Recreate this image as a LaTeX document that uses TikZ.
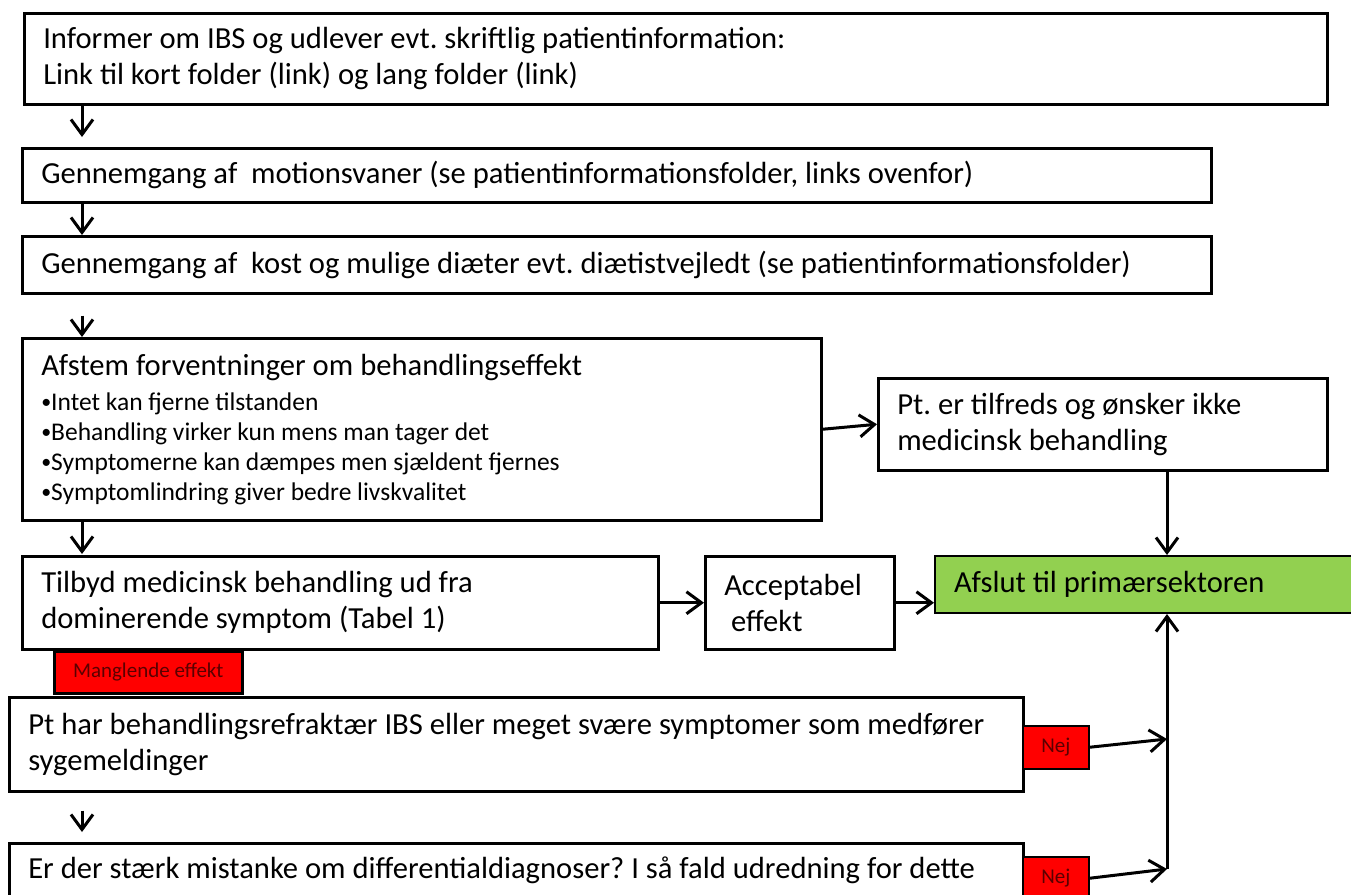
\documentclass[tikz,border=0pt]{standalone}
\usepackage{fontspec}
\setmainfont{Carlito}
\usetikzlibrary{arrows.meta,calc}
\definecolor{offgreen}{HTML}{92D050}
\definecolor{labtxt}{HTML}{5A0000}
\newcommand{\bul}{\raisebox{0.08em}{\fontsize{20}{20}\selectfont •}}
\begin{document}
\begin{tikzpicture}[x=1pt,y=-1pt,
  box/.style={draw=black, line width=2.5pt, fill=white, align=flush left, inner xsep=19pt, inner ysep=0pt, anchor=north west, font=\fontsize{30.6}{36}\selectfont\frenchspacing},
  tag/.style={draw=black, line width=1.5pt, fill=red, anchor=north west, inner sep=0pt, align=center, text=labtxt, font=\fontsize{21}{24}\selectfont},
  arr/.style={line width=3pt, -{Straight Barb[length=15pt,width=22pt]}}]
\useasboundingbox (0,0) rectangle (1351,894);
\clip (0,0) rectangle (1351,894);
\fill[white] (0,0) rectangle (1351,894);

\coordinate (col) at (82,0);
\coordinate (col2) at (1167,0);

\node[box, minimum width=1303pt, minimum height=91pt, text width=1265pt] (b1) at (23,12)
  {Informer om IBS og udlever evt. skriftlig patientinformation:\\Link til kort folder (link) og lang folder (link)};
\node[box, minimum width=1189pt, minimum height=54pt, text width=1151pt] (b2) at (21,147)
  {Gennemgang af\ \ motionsvaner (se patientinformationsfolder, links ovenfor)};
\node[box, minimum width=1189pt, minimum height=57pt, text width=1151pt] (b3) at (21,235)
  {Gennemgang af\ \ kost og mulige diæter evt. diætistvejledt (se patientinformationsfolder)};
\node[box, minimum width=799pt, minimum height=182pt, text width=761pt] (b4) at (21,337)
  {Afstem forventninger om behandlingseffekt\\[5pt]\fontsize{25.5}{30}\selectfont \bul Intet kan fjerne tilstanden\\\bul Behandling virker kun mens man tager det\\\bul Symptomerne kan dæmpes men sjældent fjernes\\\bul Symptomlindring giver bedre livskvalitet\par};
\node[box, minimum width=449pt, minimum height=92pt, text width=411pt] (b5) at (877,377)
  {Pt. er tilfreds og ønsker ikke\\medicinsk behandling};
\node[box, minimum width=636pt, minimum height=93pt, text width=598pt] (b6) at (21,555)
  {Tilbyd medicinsk behandling ud fra\\dominerende symptom (Tabel 1)};
\node[box, minimum width=189pt, minimum height=93pt, text width=151pt] (acc) at (704,555)
  {Acceptabel\\~effekt};
\node[box, fill=offgreen, line width=2pt, minimum width=430pt, minimum height=57pt, text width=392pt] (afslut) at (934,555)
  {Afslut til primærsektoren};
\node[tag, line width=2.5pt, minimum width=188pt, minimum height=42pt] (mang) at (53,650) {Manglende effekt};
\node[box, minimum width=1014pt, minimum height=94pt, text width=976pt] (b7) at (8,696)
  {Pt har behandlingsrefraktær IBS eller meget svære symptomer som medfører\\sygemeldinger};
\node[tag, minimum width=66pt, minimum height=43pt] (nej1) at (1022,725) {Nej};
\node[box, minimum width=1014pt, minimum height=54pt, text width=976pt] (b8) at (8,842)
  {Er der stærk mistanke om differentialdiagnoser? I så fald udredning for dette};
\node[tag, minimum width=66pt, minimum height=43pt] (nej2) at (1022,856) {Nej};

\coordinate (j1) at (1167,739);
\coordinate (j2) at (1167,869);

\draw[arr, shorten >=10pt] (b1.south -| col) -- (b2.north -| col);
\draw[arr] (b2.south -| col) -- (b3.north -| col);
\draw[arr, shorten <=21pt] (b3.south -| col) -- (b4.north -| col);
\draw[arr, shorten >=1pt] (b4.south -| col) -- (b6.north -| col);
\draw[arr, shorten <=18pt, shorten >=10pt] (b7.south -| col) -- (b8.north -| col);

\draw[arr] (b4.east) -- (b5.west);
\draw[arr] (b5.south -| col2) -- (afslut.north -| col2);
\draw[arr] (b6.east) -- (acc.west);
\draw[arr] (acc.east) -- (acc.east -| afslut.west);
\draw[arr] (nej1.east) -- (j1);
\draw[arr] (nej2.east) -- (j2);
\draw[arr] (j2) -- (j2 |- afslut.south);
\end{tikzpicture}
\end{document}
